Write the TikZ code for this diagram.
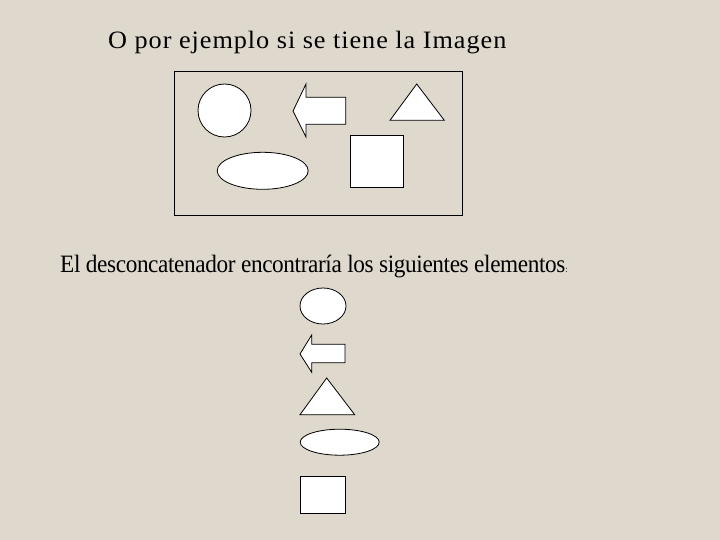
\documentclass[tikz,border=0pt]{standalone}
\usepackage{fontspec}
\setmainfont{Liberation Serif}
\newfontfamily\fuentetitulo[FakeStretch=1.05,LetterSpace=3.8]{Liberation Serif}
\newfontfamily\fuentetexto[FakeStretch=0.93,LetterSpace=-1.5]{Liberation Serif}
\usepackage{tikz}
\usetikzlibrary{shapes.geometric}
\definecolor{fondo}{RGB}{223,216,204}

\begin{document}
\begin{tikzpicture}[x=1pt,y=-1pt]
\fill[fondo] (0,0) rectangle (720,540);
\useasboundingbox (0,0) rectangle (720,540);

\begin{scope}[every node/.style={inner sep=0pt,text=black,anchor=base west}]
  \node[font=\fuentetitulo\fontsize{25}{30}\selectfont] (titulo) at (108,48.3) {O por ejemplo si se tiene la Imagen};
  \node[font=\fuentetexto\fontsize{25}{30}\selectfont] (texto) at (60,272.3) {El desconcatenador encontraría los siguientes elementos{\fontsize{9}{10}\selectfont:}};
\end{scope}

% la imagen
\draw[line width=1pt] (174,72) rectangle (462,216);

\begin{scope}[every node/.style={draw=black,fill=white,line width=0.8pt,inner sep=0pt}]
  \node[circle,minimum size=53pt] (circulo) at (224.5,110.5) {};
  \node[ellipse,minimum width=91pt,minimum height=37pt] (elipse) at (262.7,170.8) {};
  \node[rectangle,minimum width=53pt,minimum height=52pt] (cuadrado) at (376.7,161.2) {};
  \node[ellipse,minimum width=46pt,minimum height=36pt] (circulo2) at (323,306) {};
  \node[ellipse,minimum width=79pt,minimum height=26pt] (elipse2) at (339.7,442.2) {};
  \node[rectangle,minimum width=45pt,minimum height=37pt] (cuadrado2) at (322.7,494.7) {};
\end{scope}

\begin{scope}[draw=black,fill=white,line width=0.8pt,line join=miter]
  \filldraw (306,84) -- (293,111) -- (306,137) -- (306,124.3) -- (345.7,124.3)
      -- (345.7,97.3) -- (306,97.3) -- cycle;
  \filldraw (416.7,84) -- (444.3,120.3) -- (390,120.3) -- cycle;
  \filldraw (311.7,335) -- (300,354) -- (311.7,372.3) -- (311.7,362.7) -- (345,362.7)
      -- (345,344.3) -- (311.7,344.3) -- cycle;
  \filldraw (326.7,378) -- (354.7,414.7) -- (300,414.7) -- cycle;
\end{scope}
\end{tikzpicture}
\end{document}
